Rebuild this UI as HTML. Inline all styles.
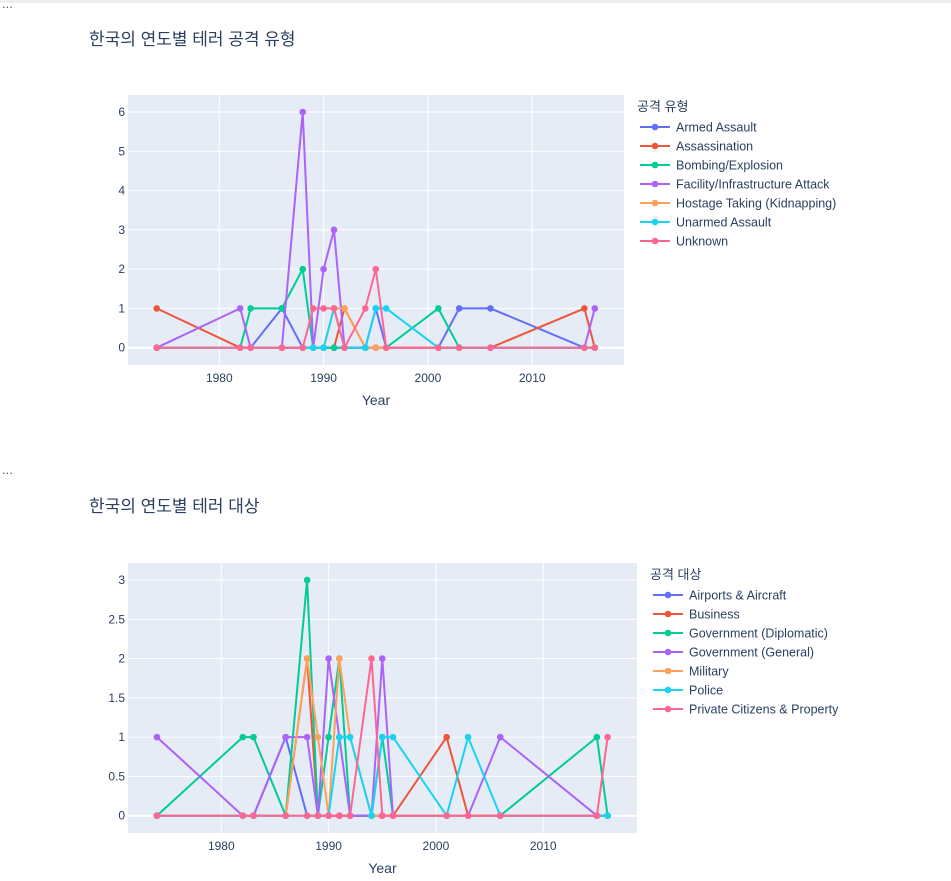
<!DOCTYPE html>
<html><head><meta charset="utf-8"><style>
body{margin:0;background:#fff;width:951px;height:876px;overflow:hidden;font-family:"Liberation Sans","Noto Sans CJK KR",sans-serif}
svg text{font-family:"Liberation Sans","Noto Sans CJK KR",sans-serif}
</style></head><body>
<svg id="s" width="951" height="876" xmlns="http://www.w3.org/2000/svg">
<rect x="0" y="0" width="951" height="3" fill="#eeeeee"/>
<text x="2" y="8" font-size="13" fill="#555">...</text>
<text x="2" y="474" font-size="13" fill="#555">...</text>
</svg>
<script>
const years=[1974,1982,1983,1986,1988,1989,1990,1991,1992,1994,1995,1996,2001,2003,2006,2015,2016];
const colors=['#636efa','#EF553B','#00cc96','#ab63fa','#FFA15A','#19d3f3','#FF6692'];
const names1=['Armed Assault','Assassination','Bombing/Explosion','Facility/Infrastructure Attack','Hostage Taking (Kidnapping)','Unarmed Assault','Unknown'];
const armed=[0,0,0,1,0,0,0,0,0,0,1,0,0,1,1,0,0];
const assassination=[1,0,0,0,0,0,0,0,1,0,0,0,0,0,0,1,0];
const bombing=[0,0,1,1,2,0,0,0,0,0,0,0,1,0,0,0,0];
const facility=[0,1,0,0,6,0,2,3,0,0,0,0,0,0,0,0,1];
const hostage=[0,0,0,0,0,0,0,1,1,0,0,0,0,0,0,0,0];
const unarmed=[0,0,0,0,0,0,0,1,0,0,1,1,0,0,0,0,0];
const unknown=[0,0,0,0,0,1,1,1,0,1,2,0,0,0,0,0,0];
const yTicks1=[0,1,2,3,4,5,6];
const names2=['Airports & Aircraft','Business','Government (Diplomatic)','Government (General)','Military','Police','Private Citizens & Property'];
const airports=[0,0,0,1,0,0,0,0,0,0,0,0,0,0,0,0,0];
const business=[0,0,0,0,2,0,0,0,0,0,0,0,1,0,0,0,0];
const diplomatic=[0,1,1,0,3,0,1,2,0,0,1,0,0,0,0,1,0];
const general=[1,0,0,1,1,0,2,1,0,0,2,0,0,0,1,0,0];
const military=[0,0,0,0,2,1,0,2,1,0,0,0,0,0,0,0,0];
const police=[0,0,0,0,0,0,0,1,1,0,1,1,0,1,0,0,0];
const privateC=[0,0,0,0,0,0,0,0,0,2,0,0,0,0,0,0,1];
const yTicks2=[0,0.5,1,1.5,2,2.5,3];
const xTicks=[1980,1990,2000,2010];

const NS='http://www.w3.org/2000/svg';
const svg=document.getElementById('s');
function mk(tag,attrs,parent){const e=document.createElementNS(NS,tag);for(const k in attrs)e.setAttribute(k,attrs[k]);(parent||svg).appendChild(e);return e;}

function chart(cfg){
  const g=mk('g',{});
  
  
  const X=v=>cfg.x0+(v-cfg.xv0)*cfg.xs;
  const Y=v=>cfg.y0-v*cfg.ys;
  const t=mk('text',{x:cfg.titleX,y:cfg.titleY,'font-size':17,fill:'#2a3f5f'},g);t.textContent=cfg.title;
  
  
  const bg=mk('rect',{x:cfg.L,y:cfg.T,width:cfg.R-cfg.L,height:cfg.B-cfg.T,fill:'#e5ecf6'},g);
  
  
  cfg.yTicks.forEach(v=>{
    const yy=Y(v);
    const l=mk('line',{x1:cfg.L,x2:cfg.R,y1:yy,y2:yy,stroke:'#fff','stroke-width':v===0?2:1},g);
    
    
    const tx=mk('text',{x:cfg.L-3,y:yy+4,'font-size':12,fill:'#2a3f5f','text-anchor':'end'},g);tx.textContent=String(v);
    
    
  });
  xTicks.forEach(v=>{
    const xx=X(v);
    const l=mk('line',{x1:xx,x2:xx,y1:cfg.T,y2:cfg.B,stroke:'#fff','stroke-width':1},g);
    
    
    const tx=mk('text',{x:xx,y:cfg.B+17,'font-size':12,fill:'#2a3f5f','text-anchor':'middle'},g);tx.textContent=String(v);
    
    
  });
  const at=mk('text',{x:(cfg.L+cfg.R)/2,y:cfg.B+40,'font-size':14,fill:'#2a3f5f','text-anchor':'middle'},g);at.textContent='Year';
  
  
  cfg.series.forEach((s,i)=>{
    const sg=mk('g',{},g);
    
    
    const pts=s.map((v,j)=>X(years[j]).toFixed(1)+','+Y(v).toFixed(1)).join(' ');
    const pl=mk('polyline',{points:pts,fill:'none',stroke:colors[i],'stroke-width':2,'stroke-linejoin':'round'},sg);
    
    
    s.forEach((v,j)=>{
      const c=mk('circle',{cx:X(years[j]),cy:Y(v),r:3.3,fill:colors[i]},sg);
      
      
    });
  });
  const lt=mk('text',{x:cfg.legX-3,y:cfg.legY-16,'font-size':13,fill:'#2a3f5f'},g);lt.textContent=cfg.legTitle;
  
  
  cfg.names.forEach((n,i)=>{
    const yy=cfg.legY+i*19;
    const lg=mk('g',{},g);
    
    
    mk('line',{x1:cfg.legX,x2:cfg.legX+30,y1:yy,y2:yy,stroke:colors[i],'stroke-width':2},lg);
    mk('circle',{cx:cfg.legX+15,cy:yy,r:3.3,fill:colors[i]},lg);
    const tx=mk('text',{x:cfg.legX+36,y:yy+4.5,'font-size':12.5,fill:'#2a3f5f'},lg);tx.textContent=n;
  });
}
chart({id:'chart-attack-type',title:'한국의 연도별 테러 공격 유형',titleX:89,titleY:45,L:128,R:624,T:95,B:365,
  x0:219.3,xv0:1980,xs:10.43,y0:347.7,ys:39.28,yTicks:yTicks1,
  series:[armed,assassination,bombing,facility,hostage,unarmed,unknown],names:names1,
  legTitle:'공격 유형',legX:640,legY:127});
chart({id:'chart-target-type',title:'한국의 연도별 테러 대상',titleX:89,titleY:512,L:128,R:637,T:563,B:833,
  x0:221.3,xv0:1980,xs:10.73,y0:815.7,ys:78.57,yTicks:yTicks2,
  series:[airports,business,diplomatic,general,military,police,privateC],names:names2,
  legTitle:'공격 대상',legX:653,legY:595});
</script>
</body></html>
